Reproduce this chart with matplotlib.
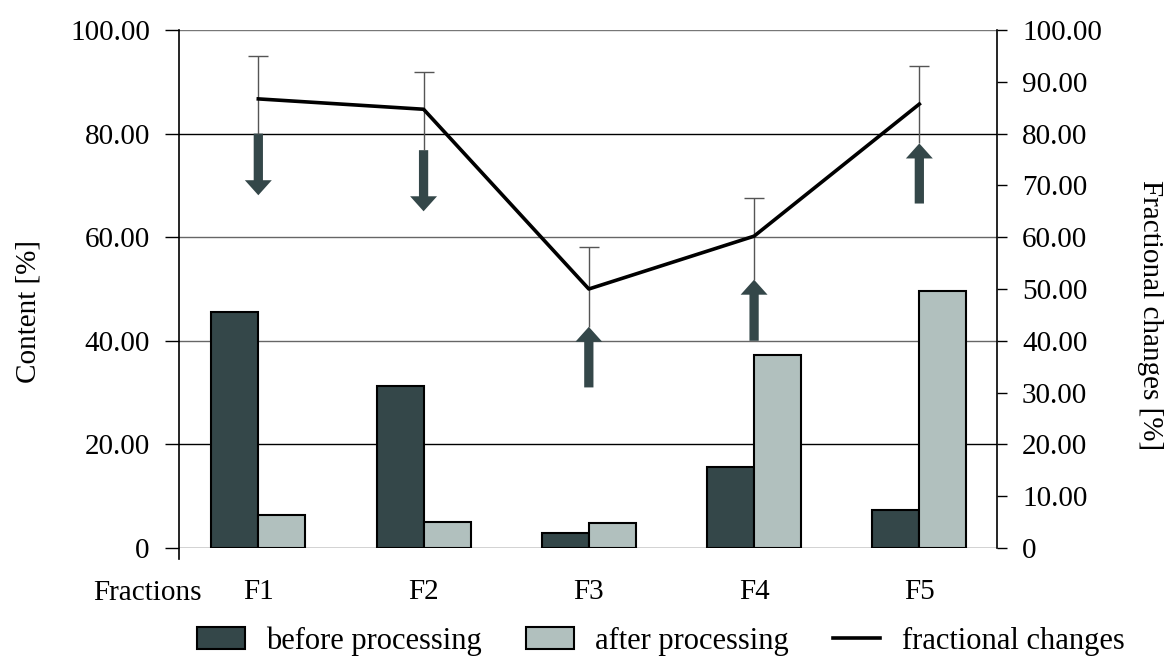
import matplotlib
matplotlib.use('Agg')
import matplotlib.pyplot as plt
from matplotlib.patches import Patch
from matplotlib.lines import Line2D
import numpy as np

# data
fractions = ['F1', 'F2', 'F3', 'F4', 'F5']
before = [45.6, 31.3, 2.9, 15.7, 7.4]
after = [6.3, 5.1, 4.8, 37.3, 49.6]
changes = [86.7, 84.7, 50.0, 60.2, 85.7]
changes_top = [95.0, 91.9, 58.1, 67.5, 93.1]
arrow_start = [80.0, 76.8, 31.0, 40.0, 66.5]
arrow_end = [68.1, 65.0, 42.7, 51.8, 78.1]

left_ticks = [0, 20, 40, 60, 80, 100]
left_labels = ['0', '20.00', '40.00', '60.00', '80.00', '100.00']
right_ticks = [0, 10, 20, 30, 40, 50, 60, 70, 80, 90, 100]
right_labels = ['0', '10.00', '20.00', '30.00', '40.00', '50.00',
                '60.00', '70.00', '80.00', '90.00', '100.00']

c_before = '#344749'
c_after = '#b1c0be'

plt.rcParams['font.family'] = ['Liberation Serif', 'DejaVu Serif']
fig = plt.figure(figsize=(11.68, 6.6), dpi=100)
ax = fig.add_axes([179/1168, 1-548/660, (997-179)/1168, 518/660])

x = np.arange(len(fractions))
w = 0.284
ax.bar(x - w/2, before, w, color=c_before, edgecolor='black', linewidth=1.5, zorder=2)
ax.bar(x + w/2, after, w, color=c_after, edgecolor='black', linewidth=1.5, zorder=2)

# arrows showing direction of change
for xi, s, e in zip(x, arrow_start, arrow_end):
    ax.arrow(xi, s, 0, e - s, width=0.056, head_width=0.163, head_length=2.9,
             length_includes_head=True, color=c_before, lw=0, zorder=3)

ax.set_xlim(-0.48, 4.47)
ax.set_ylim(0, 100)
ax.set_yticks(left_ticks)
ax.set_yticklabels(left_labels)
ax.set_xticks(x)
ax.set_xticklabels(fractions)
ax.tick_params(axis='y', length=10, width=1, pad=11, labelsize=21)
ax.tick_params(axis='x', length=0, pad=22, labelsize=21)
ax.set_axisbelow(True)
ax.grid(axis='y', color='#444444', linewidth=1)
grid_colors = ['#222222', 'black', '#666666', '#666666', 'black', '#777777']
for gl, gc in zip(ax.get_ygridlines(), grid_colors):
    gl.set_color(gc)
for s in ['top', 'bottom', 'right']:
    ax.spines[s].set_visible(False)
ax.spines['left'].set_bounds(-2.1, 100)
ax.spines['left'].set_linewidth(1.2)

ax2 = ax.twinx()
ax2.set_ylim(0, 100)
ax2.set_yticks(right_ticks)
ax2.set_yticklabels(right_labels)
ax2.tick_params(axis='y', length=7, width=1, pad=11, labelsize=21)
for s in ['top', 'bottom', 'left']:
    ax2.spines[s].set_visible(False)
ax2.spines['right'].set_linewidth(1.2)

# grey whisker runs from the arrow end nearest the line up to the upper cap
near = [s if e < s else e for s, e in zip(arrow_start, arrow_end)]
lower = [c - n for c, n in zip(changes, near)]
upper = [t - c for t, c in zip(changes_top, changes)]
eb = ax2.errorbar(x, changes, yerr=[lower, upper], fmt='none', ecolor='#555555',
                  elinewidth=1, capsize=7, capthick=1, zorder=2)
eb[1][0].set_visible(False)
ax2.plot(x, changes, color='black', linewidth=2.6, zorder=3)

fig.text(147/1168, 1-593/660, 'Fractions', ha='center', va='center', fontsize=21)
fig.text(28/1168, 1-312/660, 'Content [%]', ha='center', va='center',
         rotation=90, fontsize=21)
fig.text(1150/1168, 1-315/660, 'Fractional changes [%]', ha='center', va='center',
         rotation=270, fontsize=21)

handles = [Patch(facecolor=c_before, edgecolor='black', linewidth=1.5),
           Patch(facecolor=c_after, edgecolor='black', linewidth=1.5),
           Line2D([0], [0], color='black', linewidth=2.6)]
labels = ['before processing', 'after processing', 'fractional changes']
fig.legend(handles, labels, loc='center', bbox_to_anchor=(661/1168, 1-641/660),
           ncol=3, frameon=False, fontsize=22, handlelength=1.55, handleheight=0.75,
           columnspacing=1.45, handletextpad=0.7)

fig.savefig('out.png', dpi=100)
